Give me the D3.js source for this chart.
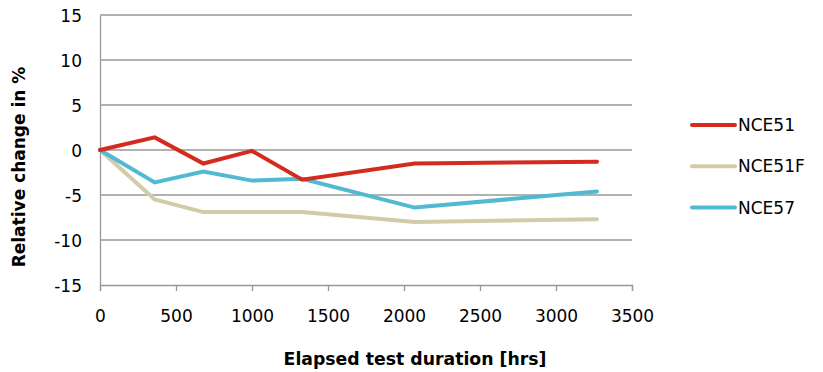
<!DOCTYPE html>
<html><head><meta charset="utf-8">
<script src="https://cdn.jsdelivr.net/npm/d3@7"></script>
<style>body{margin:0;background:#fff}svg{display:block}text{font-family:"DejaVu Sans",sans-serif}</style>
</head><body><svg id="c" width="823" height="372"></svg>
<script>
const hours = [0, 360, 680, 1000, 1330, 2070, 3270];
const seriesNames = ["NCE51", "NCE51F", "NCE57"];
const nce51 = [0, 1.4, -1.5, -0.1, -3.3, -1.5, -1.3];
const nce51f = [0, -5.5, -6.9, -6.9, -6.9, -8.0, -7.7];
const nce57 = [0, -3.6, -2.4, -3.4, -3.2, -6.4, -4.6];
const colors = ["#d52b1e", "#d2cbaa", "#52b9d2"];
const xTicks = [0, 500, 1000, 1500, 2000, 2500, 3000, 3500];
const yTicks = [-15, -10, -5, 0, 5, 10, 15];

const svg = d3.select("#c");
const x = d3.scaleLinear().domain([0, 3500]).range([100, 632]);
const y = d3.scaleLinear().domain([-15, 15]).range([285, 15]);
const fmt = d => String(d);

// gridlines
svg.append("g").selectAll("line").data(yTicks.filter(d => d !== -15)).join("line")
  .attr("x1", 100).attr("x2", 632).attr("y1", d => y(d)).attr("y2", d => y(d))
  .attr("stroke", "#999").attr("stroke-width", 1.3);

// y axis
const ya = svg.append("g").attr("transform", "translate(100,0)")
  .call(d3.axisLeft(y).tickValues(yTicks).tickFormat(fmt).tickSize(0).tickPadding(18));
ya.select(".domain").attr("stroke", "#999").attr("stroke-width", 1.3);
ya.selectAll("text").attr("font-size", 17).attr("fill", "#000").attr("font-family", "DejaVu Sans").attr("dy", "0.4em");

// x axis
const xa = svg.append("g").attr("transform", `translate(0,${y(-15)})`)
  .call(d3.axisBottom(x).tickValues(xTicks).tickFormat(fmt).tickSize(6).tickSizeOuter(6).tickPadding(19));
xa.select(".domain").attr("stroke", "#999").attr("stroke-width", 1.3);
xa.selectAll(".tick line").attr("stroke", "#999").attr("stroke-width", 1.3);
xa.selectAll("text").attr("font-size", 17).attr("fill", "#000").attr("font-family", "DejaVu Sans");

// lines
const allSeries = [nce51, nce51f, nce57];
const line = d3.line().x((d, i) => x(hours[i])).y(d => y(d));
[1, 2, 0].forEach(k => {
  svg.append("path").attr("d", line(allSeries[k])).attr("fill", "none")
    .attr("stroke", colors[k]).attr("stroke-width", 4)
    .attr("stroke-linejoin", "miter").attr("stroke-linecap", "round");
});

// legend
const lg = svg.append("g");
seriesNames.forEach((n, i) => {
  const yy = 125 + i * 41.3;
  lg.append("line").attr("x1", 692).attr("x2", 735).attr("y1", yy).attr("y2", yy)
    .attr("stroke", colors[i]).attr("stroke-width", 4).attr("stroke-linecap", "round");
  lg.append("text").attr("x", 738).attr("y", yy).attr("dy", "0.36em")
    .attr("font-size", 17).text(n);
});

// axis titles
svg.append("text").attr("x", 415).attr("y", 359).attr("dy", "0.36em").attr("text-anchor", "middle")
  .attr("font-size", 17.3).attr("font-weight", "bold").text("Elapsed test duration [hrs]");
svg.append("text").attr("transform", "translate(19,167) rotate(-90)").attr("dy", "0.36em")
  .attr("text-anchor", "middle").attr("font-size", 17).attr("font-weight", "bold").text("Relative change in %");
</script></body></html>
